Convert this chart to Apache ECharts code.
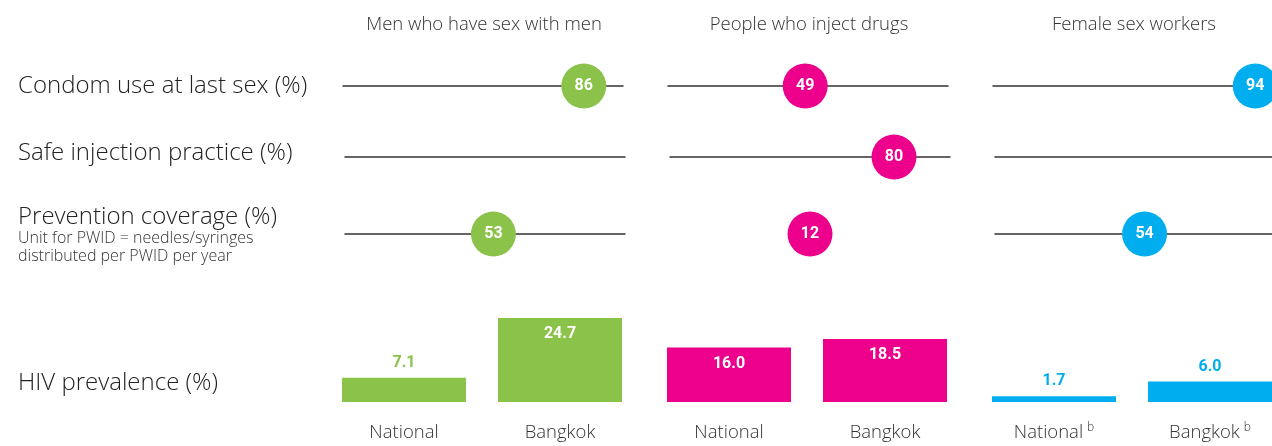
<!DOCTYPE html>
<html>
<head>
<meta charset="utf-8">
<script src="https://cdn.jsdelivr.net/npm/echarts@6/dist/echarts.min.js"></script>
<style>
  html, body { margin: 0; padding: 0; background: #fff; }
  #chart { width: 1272px; height: 446px; }
</style>
</head>
<body>
<div id="chart"></div>
<script>
// Key populations in Thailand: behaviour indicators and HIV prevalence
const groups = ['Men who have sex with men', 'People who inject drugs', 'Female sex workers'];
const groupColors = ['#8bc34a', '#ec008c', '#00aeef'];

const rowLabels = ['Condom use at last sex (%)', 'Safe injection practice (%)', 'Prevention coverage (%)'];
const coverageNote = ['Unit for PWID = needles/syringes', 'distributed per PWID per year'];

// Indicator values per group (null = not reported)
const condomUse = [86, 49, 94];
const safeInjection = [null, 80, null];
const preventionCoverage = [53, 12, 54];   // PWID value is needles/syringes, not a percentage

// Scale maximum for each group's coverage row (PWID row uses its own unit, no track line)
const coverageScaleMax = [100, 24, 100];
const coverageTrack = [true, false, true];

// HIV prevalence (%)
const prevalenceLabel = 'HIV prevalence (%)';
const prevalenceCategories = ['National', 'Bangkok'];
const prevalenceNotes = ['', '', 'b'];
const hivNational = [7.1, 16.0, 1.7];
const hivBangkok = [24.7, 18.5, 6.0];

// ---- layout ----
const FONT = '"Open Sans", Lato, sans-serif';
const NUMFONT = 'Roboto, sans-serif';
const panelStep = 325;
const trackLeft = 344;
const trackWidth = 280;
const rowY = [86, 157, 234];
const rowNudge = [-1, 1, 1];
// bar grid spans the two bar centres (category axis without boundary gap)
const barCentreLeft = 404;
const barCentreSpan = 156;
const barBase = 402;
const barAreaHeight = 102;

const chart = echarts.init(document.getElementById('chart'), null, { renderer: 'canvas' });

const grids = [], xAxes = [], yAxes = [], series = [], titles = [];

function rowTitle(text, cy, size, color) {
  titles.push({
    text: text, left: 18, top: cy - size * 0.6, padding: 0,
    textStyle: { fontFamily: FONT, fontSize: size, fontWeight: 300, color: color, lineHeight: size * 1.2 }
  });
}

rowTitle(rowLabels[0], rowY[0], 24, '#222');
rowTitle(rowLabels[1], 153, 24, '#222');
rowTitle(rowLabels[2], 217, 24, '#222');
rowTitle(coverageNote[0], 238, 16, '#333');
rowTitle(coverageNote[1], 256, 16, '#333');
rowTitle(prevalenceLabel, 383, 24, '#222');

const rows = [condomUse, safeInjection, preventionCoverage];

groups.forEach(function (g, p) {
  const color = groupColors[p];
  const px = trackLeft + p * panelStep;

  // group heading
  titles.push({
    text: g, left: px + trackWidth / 2, top: 14, textAlign: 'center', padding: 0,
    textStyle: { fontFamily: FONT, fontSize: 18.5, fontWeight: 300, color: '#333', lineHeight: 22 }
  });

  // dot rows
  rows.forEach(function (vals, r) {
    const gi = grids.length;
    const scaleMax = r === 2 ? coverageScaleMax[p] : 100;
    const showTrack = r === 2 ? coverageTrack[p] : true;
    grids.push({ left: px + rowNudge[r], width: trackWidth, top: rowY[r] - 25, height: 50 });
    xAxes.push({
      gridIndex: gi, type: 'value', min: 0, max: scaleMax,
      axisLine: { show: showTrack, onZero: true, lineStyle: { color: '#333', width: 1.5 } },
      axisTick: { show: false }, axisLabel: { show: false }, splitLine: { show: false }
    });
    yAxes.push({ gridIndex: gi, type: 'value', min: -1, max: 1, show: false });
    const v = vals[p];
    series.push({
      type: 'scatter', xAxisIndex: gi, yAxisIndex: gi,
      symbol: 'circle', symbolSize: 45,
      data: v == null ? [] : [[v, 0]],
      itemStyle: { color: color, opacity: 1 },
      label: {
        show: true, position: 'inside', formatter: function (d) { return String(d.value[0]); },
        color: '#fff', fontFamily: NUMFONT, fontWeight: 'bold', fontSize: 16
      },
      silent: true, z: 3
    });
  });

  // prevalence bars
  const bi = grids.length;
  grids.push({ left: barCentreLeft + p * panelStep, width: barCentreSpan, top: barBase - barAreaHeight, height: barAreaHeight });
  const note = prevalenceNotes[p];
  xAxes.push({
    gridIndex: bi, type: 'category', data: prevalenceCategories, boundaryGap: false,
    axisLine: { show: false }, axisTick: { show: false }, splitLine: { show: false },
    axisLabel: {
      margin: 20,
      formatter: function (c) { return note ? '{n|' + c + '}{s|' + note + '}' : '{n|' + c + '}'; },
      rich: {
        n: { fontFamily: FONT, fontSize: 18.5, fontWeight: 300, color: '#333', lineHeight: 22 },
        s: { fontFamily: FONT, fontSize: 12, fontWeight: 300, color: '#333', verticalAlign: 'top', lineHeight: 13, padding: [0, 0, 0, 4] }
      }
    }
  });
  yAxes.push({ gridIndex: bi, type: 'value', min: 0, max: 30, show: false });

  const vals = [hivNational[p], hivBangkok[p]];
  series.push({
    type: 'bar', xAxisIndex: bi, yAxisIndex: bi, barWidth: 124,
    itemStyle: { color: color },
    data: vals.map(function (v) {
      const inside = v >= 10;
      return {
        value: v,
        label: {
          show: true,
          position: inside ? 'insideTop' : 'top',
          distance: inside ? 8 : 7,
          color: inside ? '#fff' : color,
          fontFamily: NUMFONT, fontWeight: 'bold', fontSize: 16,
          formatter: function (d) { return d.value.toFixed(1); }
        }
      };
    }),
    silent: true
  });
});

chart.setOption({
  backgroundColor: '#fff',
  animation: false,
  title: titles,
  grid: grids,
  xAxis: xAxes,
  yAxis: yAxes,
  series: series
});
</script>
</body>
</html>
